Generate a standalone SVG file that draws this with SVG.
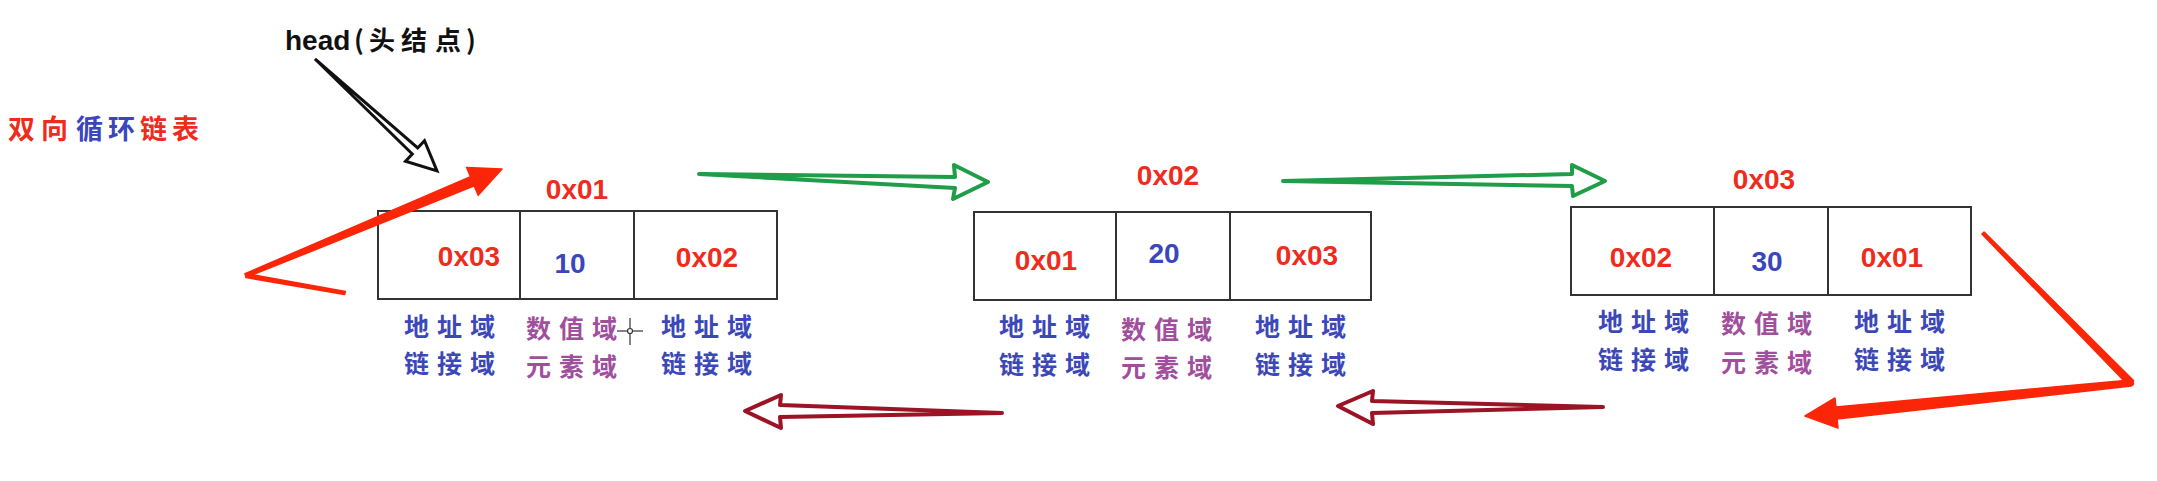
<svg xmlns="http://www.w3.org/2000/svg" width="2157" height="481" viewBox="0 0 2157 481">
<style>
.box{fill:none;stroke:#333;stroke-width:2}
.hex{font-family:"Liberation Sans",Arial,sans-serif;font-weight:bold;font-size:28px;fill:#ef2c1c;text-anchor:middle}
.val{font-family:"Liberation Sans",Arial,sans-serif;font-weight:bold;font-size:28px;fill:#3a46bd;text-anchor:middle}
.lb{font-family:"Noto Sans CJK SC",sans-serif;font-weight:bold;font-size:25px;letter-spacing:8px}
.addr{fill:#3c48b8}
.num{fill:#a04f9c}
.hcjk{font-family:"Noto Sans CJK SC",sans-serif;font-weight:bold;font-size:26px}
.green{fill:#fff;stroke:#1f9d48;stroke-width:4;stroke-linejoin:round;stroke-linecap:round}
.maroon{fill:#fff;stroke:#9b1324;stroke-width:4;stroke-linejoin:round;stroke-linecap:round}
.redarr{fill:#fb2608;stroke:#fb2608;stroke-width:1.5;stroke-linejoin:round}
</style>
<rect width="2157" height="481" fill="#fff"/>

<g id="title">
<text font-family="Noto Sans CJK SC,sans-serif" font-weight="bold" font-size="27" y="139"><tspan x="8" fill="#ee2c1c">双</tspan><tspan x="41" fill="#ee2c1c">向</tspan><tspan x="76" fill="#3a46c0">循</tspan><tspan x="108" fill="#3a46c0">环</tspan><tspan x="140" fill="#ee2c1c">链</tspan><tspan x="172" fill="#ee2c1c">表</tspan></text>
</g>

<g id="head-label">
<text y="50" font-family="Liberation Sans,Arial,sans-serif" font-weight="bold" font-size="28" fill="#111"><tspan x="285">head</tspan><tspan class="hcjk" x="354 369 401 435 466">(头结点)</tspan></text>
</g>

<g id="node1">
<rect class="box" x="378" y="211" width="399" height="88"/>
<line class="box" x1="520" y1="211" x2="520" y2="299"/>
<line class="box" x1="634" y1="211" x2="634" y2="299"/>
<text class="hex" x="577" y="199">0x01</text>
<text class="hex" x="469" y="266">0x03</text>
<text class="val" x="570" y="273">10</text>
<text class="hex" x="707" y="267">0x02</text>
<text class="lb addr" x="404" y="336">地址域</text>
<text class="lb addr" x="404" y="373">链接域</text>
<text class="lb num" x="526" y="338">数值域</text>
<text class="lb num" x="526" y="376">元素域</text>
<text class="lb addr" x="661" y="336">地址域</text>
<text class="lb addr" x="661" y="373">链接域</text>
</g>

<g id="node2">
<rect class="box" x="974" y="212" width="397" height="88"/>
<line class="box" x1="1116" y1="212" x2="1116" y2="300"/>
<line class="box" x1="1230" y1="212" x2="1230" y2="300"/>
<text class="hex" x="1168" y="185">0x02</text>
<text class="hex" x="1046" y="270">0x01</text>
<text class="val" x="1164" y="263">20</text>
<text class="hex" x="1307" y="265">0x03</text>
<text class="lb addr" x="999" y="336">地址域</text>
<text class="lb addr" x="999" y="374">链接域</text>
<text class="lb num" x="1121" y="339">数值域</text>
<text class="lb num" x="1121" y="377">元素域</text>
<text class="lb addr" x="1255" y="336">地址域</text>
<text class="lb addr" x="1255" y="374">链接域</text>
</g>

<g id="node3">
<rect class="box" x="1571" y="207" width="400" height="88"/>
<line class="box" x1="1714" y1="207" x2="1714" y2="295"/>
<line class="box" x1="1828" y1="207" x2="1828" y2="295"/>
<text class="hex" x="1764" y="189">0x03</text>
<text class="hex" x="1641" y="267">0x02</text>
<text class="val" x="1767" y="271">30</text>
<text class="hex" x="1892" y="267">0x01</text>
<text class="lb addr" x="1598" y="331">地址域</text>
<text class="lb addr" x="1598" y="369">链接域</text>
<text class="lb num" x="1721" y="333">数值域</text>
<text class="lb num" x="1721" y="372">元素域</text>
<text class="lb addr" x="1854" y="331">地址域</text>
<text class="lb addr" x="1854" y="369">链接域</text>
</g>

<g id="connectors">
<polygon points="315,59 412.3,154 405.5,161.3 437,171 424.5,140.7 417.7,148" fill="#fff" stroke="#111" stroke-width="3" stroke-linejoin="miter"/>
<polygon class="redarr" points="246.2,273.2 470.5,176.7 466.6,167.5 502,169 478.2,195.2 474.3,185.9 247.8,276.8"/>
<polygon class="redarr" points="245,273.5 345.5,291.5 344.5,294.5 246,277.5"/>
<polygon class="green" points="699,174 955,177 954,165 988,182 953,199 955,188"/>
<polygon class="green" points="1283,181 1572,174 1572,165 1605,181 1573,196 1572,186"/>
<polygon class="maroon" points="1002,413 780,405 781,395 745,411 781,428 780,417"/>
<polygon class="maroon" points="1603,407 1372,401 1373,391 1338,406 1373,424 1372,413"/>
<polygon class="redarr" points="1984.1,232 1981.9,234 2128.5,385.5 2133.5,380.5"/>
<polygon class="redarr" points="2130.7,380 1835.9,407 1835,398 1805,416 1838,428 1837.1,419 2131.3,386"/>
<circle cx="2131" cy="383" r="3.2" fill="#fb2608"/>
</g>

<g id="cursor" stroke="#333" stroke-width="1.2" fill="none">
<line x1="630" y1="318" x2="630" y2="345"/>
<line x1="617" y1="331" x2="643" y2="331"/>
<circle cx="630" cy="331" r="2.5" fill="#fff"/>
</g>
</svg>
